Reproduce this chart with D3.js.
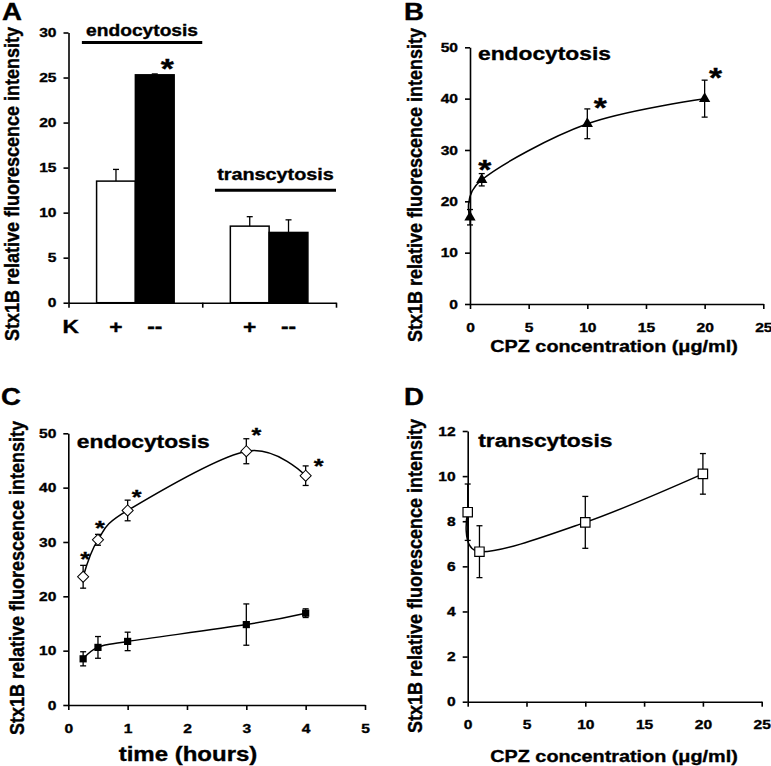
<!DOCTYPE html>
<html>
<head>
<meta charset="utf-8">
<script src="https://cdn.jsdelivr.net/npm/d3@7"></script>
<style>
    body { margin: 0; background: #fff; }
    svg { display: block; }
    text { font-family: 'Liberation Sans', Arial, sans-serif; font-weight: bold; fill: #000; stroke: #000; stroke-width: 0.35; }
    .axis path, .axis line { stroke: #000; stroke-width: 1.6; }
</style>
</head>
<body>
<div id="chart"></div>
<script>
/* global d3 */

// ---- values ----

// A: K+ / K- depletion, bars
let groupsA = ['endocytosis', 'transcytosis']
let kLevels = ['+', '--']
let meanA = [[13.5, 25.3], [8.5, 7.8]]
let errA = [[1.3, 0.1], [1.05, 1.4]]
let starA = [[false, true], [false, false]]
let yTicksA = [0, 5, 10, 15, 20, 25, 30]

// B: endocytosis vs CPZ
let cpzB = [0, 1, 10, 20]
let meanB = [16.9, 24.2, 35.1, 40.0]
let errB = [1.5, 1.2, 2.9, 3.6]
let starB = [false, true, true, true]
let xTicksB = [0, 5, 10, 15, 20, 25]
let yTicksB = [0, 10, 20, 30, 40, 50]

// C: time course, treated (open diamonds) and control (black squares)
let timeC = [0.25, 0.5, 1, 3, 4]
let endoC = [23.6, 30.4, 35.8, 46.7, 42.2]
let endoErrC = [2.1, 1.0, 1.9, 2.3, 1.8]
let ctrlC = [8.5, 10.6, 11.7, 14.8, 16.9]
let ctrlErrC = [1.3, 2.0, 1.7, 3.8, 0.8]
let starC = [true, true, true, true, true]
let xTicksC = [0, 1, 2, 3, 4, 5]
let yTicksC = [0, 10, 20, 30, 40, 50]

// D: transcytosis vs CPZ
let cpzD = [0, 1, 10, 20]
let meanD = [8.4, 6.65, 7.95, 10.1]
let errD = [1.25, 1.15, 1.15, 0.9]
let xTicksD = [0, 5, 10, 15, 20, 25]
let yTicksD = [0, 2, 4, 6, 8, 10, 12]

let yTitle = 'Stx1B relative fluorescence intensity'
let cpzTitle = 'CPZ concentration (\u03bcg/ml)'
let timeTitle = 'time (hours)'

// asterisk nudges (dx, dy from top of error bar)
let starNudgeB = [[0, 0], [3, -10], [13, -8], [11, -9]]
let starNudgeC = [[2, -11], [2, -11], [9, -8], [10, -8], [13, -5]]

// ---- drawing ----
let W = 771
let H = 766
let SX = 1.2 // lettering in the figure is stretched sideways
let SXR = 1.1 // same for the rotated titles

let svg = d3.select('#chart').append('svg')
    .attr('width', W)
    .attr('height', H)

function addText (g, x, y, str, size, anchor, rotated) {
    let tf = 'translate(' + x + ',' + y + ')'
    tf += rotated ? ' rotate(-90) scale(1,' + SXR + ')' : ' scale(' + SX + ',1)'
    return g.append('text')
        .attr('transform', tf)
        .attr('text-anchor', anchor || 'start')
        .style('font-size', size + 'px')
        .text(str)
}

function star (g, cx, cy, size) {
    addText(g, cx, cy + 0.56 * size, '*', size, 'middle')
}

function styleTicks (axisG) {
    axisG.selectAll('text')
        .style('font-size', '13px')
        .attr('transform', 'scale(' + SX + ',1)')
}

function drawAxes (g, x, y, xTicks, yTicks, xPad) {
    let yAxis = g.append('g').attr('class', 'axis')
        .attr('transform', 'translate(' + x.range()[0] + ',0)')
        .call(d3.axisLeft(y).tickValues(yTicks).tickFormat(d3.format('d'))
            .tickSize(5).tickSizeOuter(0).tickPadding(5))
    styleTicks(yAxis)
    let xAxis = g.append('g').attr('class', 'axis')
        .attr('transform', 'translate(0,' + y.range()[0] + ')')
        .call(d3.axisBottom(x).tickValues(xTicks).tickFormat(d3.format('d'))
            .tickSize(5).tickSizeOuter(0).tickPadding(xPad))
    styleTicks(xAxis)
}

function errorBars (g, xs, ys, errs, x, y, cap) {
    let eb = g.append('g').attr('class', 'errorbars')
        .attr('stroke', '#000').attr('stroke-width', 1.3)
    xs.forEach((xv, i) => {
        let px = x(xv)
        eb.append('line').attr('x1', px).attr('x2', px)
            .attr('y1', y(ys[i] - errs[i])).attr('y2', y(ys[i] + errs[i]))
        eb.append('line').attr('x1', px - cap).attr('x2', px + cap)
            .attr('y1', y(ys[i] + errs[i])).attr('y2', y(ys[i] + errs[i]))
        eb.append('line').attr('x1', px - cap).attr('x2', px + cap)
            .attr('y1', y(ys[i] - errs[i])).attr('y2', y(ys[i] - errs[i]))
    })
}

let smooth = d3.curveCardinal.tension(0)

// ---------------- A ----------------
let gA = svg.append('g').attr('class', 'panelA')
let xA = d3.scaleBand().domain(groupsA).range([68.5, 336]).paddingInner(0.42).paddingOuter(0.21)
let xAk = d3.scaleBand().domain(kLevels).range([0, xA.bandwidth()])
let edgeA = d3.scaleLinear().domain([0, groupsA.length]).range([68.5, 336])
let yA = d3.scaleLinear().domain([0, 30]).range([302.7, 32.5])

groupsA.forEach((grp, gi) => {
    kLevels.forEach((k, ki) => {
        let bx = xA(grp) + xAk(k)
        let cx = bx + xAk.bandwidth() / 2
        let top = yA(meanA[gi][ki])
        // error bar, upward only
        gA.append('line').attr('x1', cx).attr('x2', cx)
            .attr('y1', top).attr('y2', yA(meanA[gi][ki] + errA[gi][ki]))
            .attr('stroke', '#000').attr('stroke-width', 1.3)
        gA.append('line').attr('x1', cx - 3).attr('x2', cx + 3)
            .attr('y1', yA(meanA[gi][ki] + errA[gi][ki])).attr('y2', yA(meanA[gi][ki] + errA[gi][ki]))
            .attr('stroke', '#000').attr('stroke-width', 1.3)
        gA.append('rect')
            .attr('x', bx)
            .attr('y', top)
            .attr('width', xAk.bandwidth())
            .attr('height', yA(0) - top)
            .attr('fill', ki === 0 ? '#fff' : '#000')
            .attr('stroke', '#000')
            .attr('stroke-width', 1.5)
        addText(gA, cx, 333, k, 19, 'middle')
        if (starA[gi][ki]) {
            star(gA, cx + 12.5, yA(meanA[gi][ki] + errA[gi][ki]) - 12, 28)
        }
    })
})

let yAxisA = gA.append('g').attr('class', 'axis')
    .attr('transform', 'translate(' + edgeA(0) + ',0)')
    .call(d3.axisLeft(yA).tickValues(yTicksA).tickSize(5).tickSizeOuter(0).tickPadding(5))
styleTicks(yAxisA)
gA.append('g').attr('class', 'axis')
    .attr('transform', 'translate(0,' + yA(0) + ')')
    .call(d3.axisBottom(edgeA).tickValues([0, 1, 2]).tickFormat('').tickSize(5).tickSizeOuter(0))

// group brackets
gA.append('line').attr('x1', edgeA(0.1)).attr('x2', edgeA(1))
    .attr('y1', yA(28.9)).attr('y2', yA(28.9)).attr('stroke', '#000').attr('stroke-width', 3)
addText(gA, edgeA(0.55), yA(29.63), groupsA[0], 16, 'middle')
gA.append('line').attr('x1', edgeA(1.095)).attr('x2', edgeA(2))
    .attr('y1', yA(12.49)).attr('y2', yA(12.49)).attr('stroke', '#000').attr('stroke-width', 3)
addText(gA, edgeA(1.5475), yA(13.63), groupsA[1], 16.5, 'middle')

addText(gA, 62.5, 333, 'K', 19, 'start')
addText(gA, 18.5, 184, yTitle, 18, 'middle', true)
addText(gA, 2, 20, 'A', 23, 'start')

// ---------------- B ----------------
let gB = svg.append('g').attr('class', 'panelB')
let xB = d3.scaleLinear().domain([0, 25]).range([470, 763.3])
let yB = d3.scaleLinear().domain([0, 50]).range([304, 47.3])
drawAxes(gB, xB, yB, xTicksB, yTicksB, 14)

gB.append('path')
    .datum(cpzB.map((c, i) => [c, meanB[i]]))
    .attr('fill', 'none').attr('stroke', '#000').attr('stroke-width', 1.5)
    .attr('d', d3.line().x(d => xB(d[0])).y(d => yB(d[1])).curve(smooth))
errorBars(gB, cpzB, meanB, errB, xB, yB, 3)
gB.selectAll('path.tri')
    .data(cpzB)
    .enter()
    .append('path')
    .attr('class', 'tri')
    .attr('transform', (c, i) => 'translate(' + xB(c) + ',' + yB(meanB[i]) + ')')
    .attr('d', d3.symbol(d3.symbolTriangle, 55))
    .attr('fill', '#000')
cpzB.forEach((c, i) => {
    if (starB[i]) {
        star(gB, xB(c) + starNudgeB[i][0], yB(meanB[i] + errB[i]) + starNudgeB[i][1], 28)
    }
})
addText(gB, xB.range()[0] + 8, yB.range()[1] + 13, 'endocytosis', 19, 'start')
addText(gB, 614, 352, cpzTitle, 16.5, 'middle')
addText(gB, 422, 185, yTitle, 18, 'middle', true)
addText(gB, 404, 20, 'B', 23, 'start')

// ---------------- C ----------------
let gC = svg.append('g').attr('class', 'panelC')
let xC = d3.scaleLinear().domain([0, 5]).range([68.3, 365])
let yC = d3.scaleLinear().domain([0, 50]).range([705, 433.3])
drawAxes(gC, xC, yC, xTicksC, yTicksC, 14)

let lineC = d3.line().x(d => xC(d[0])).y(d => yC(d[1])).curve(smooth)
gC.append('path')
    .datum(timeC.map((t, i) => [t, endoC[i]]))
    .attr('fill', 'none').attr('stroke', '#000').attr('stroke-width', 1.5)
    .attr('d', lineC)
gC.append('path')
    .datum(timeC.map((t, i) => [t, ctrlC[i]]))
    .attr('fill', 'none').attr('stroke', '#000').attr('stroke-width', 1.5)
    .attr('d', lineC)
errorBars(gC, timeC, endoC, endoErrC, xC, yC, 3)
errorBars(gC, timeC, ctrlC, ctrlErrC, xC, yC, 3)
gC.selectAll('path.dia')
    .data(timeC)
    .enter()
    .append('path')
    .attr('class', 'dia')
    .attr('transform', (t, i) => 'translate(' + xC(t) + ',' + yC(endoC[i]) + ') rotate(45)')
    .attr('d', d3.symbol(d3.symbolSquare, 62))
    .attr('fill', '#fff').attr('stroke', '#000').attr('stroke-width', 1)
gC.selectAll('path.sq')
    .data(timeC)
    .enter()
    .append('path')
    .attr('class', 'sq')
    .attr('transform', (t, i) => 'translate(' + xC(t) + ',' + yC(ctrlC[i]) + ')')
    .attr('d', d3.symbol(d3.symbolSquare, 52))
    .attr('fill', '#000')
timeC.forEach((t, i) => {
    if (starC[i]) {
        star(gC, xC(t) + starNudgeC[i][0], yC(endoC[i] + endoErrC[i]) + starNudgeC[i][1], 21)
    }
})
addText(gC, xC.range()[0] + 8.5, yC.range()[1] + 14.5, 'endocytosis', 19, 'start')
addText(gC, 188, 761, timeTitle, 20, 'middle')
addText(gC, 24, 578, yTitle, 18, 'middle', true)
addText(gC, 1, 405, 'C', 23, 'start')

// ---------------- D ----------------
let gD = svg.append('g').attr('class', 'panelD')
let xD = d3.scaleLinear().domain([0, 25]).range([467.7, 761.7])
let yD = d3.scaleLinear().domain([0, 12]).range([701.7, 431])
drawAxes(gD, xD, yD, xTicksD, yTicksD, 13)

gD.append('path')
    .datum(cpzD.map((c, i) => [c, meanD[i]]))
    .attr('fill', 'none').attr('stroke', '#000').attr('stroke-width', 1.5)
    .attr('d', d3.line().x(d => xD(d[0])).y(d => yD(d[1])).curve(smooth))
errorBars(gD, cpzD, meanD, errD, xD, yD, 3)
gD.selectAll('path.osq')
    .data(cpzD)
    .enter()
    .append('path')
    .attr('class', 'osq')
    .attr('transform', (c, i) => 'translate(' + xD(c) + ',' + yD(meanD[i]) + ')')
    .attr('d', d3.symbol(d3.symbolSquare, 88))
    .attr('fill', '#fff').attr('stroke', '#000').attr('stroke-width', 1.2)
addText(gD, xD.range()[0] + 10.5, yD.range()[1] + 16.3, 'transcytosis', 19, 'start')
addText(gD, 614, 762, cpzTitle, 16.5, 'middle')
addText(gD, 422, 576, yTitle, 18, 'middle', true)
addText(gD, 404, 405, 'D', 23, 'start')
</script>
</body>
</html>
